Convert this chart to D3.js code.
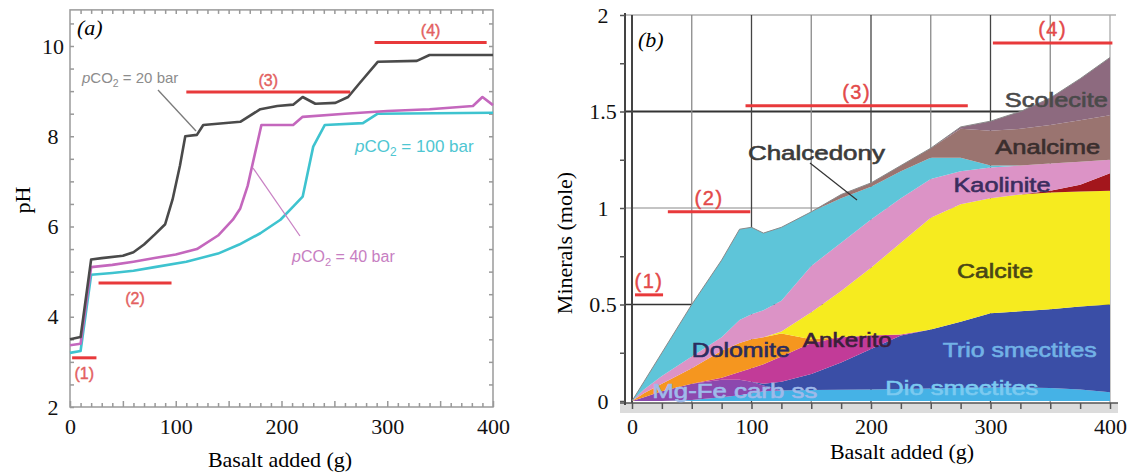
<!DOCTYPE html>
<html>
<head>
<meta charset="utf-8">
<script src="https://cdn.jsdelivr.net/npm/d3@7"></script>
<style>
body{margin:0;background:#fff;}
svg{display:block;}
text{font-family:"Liberation Serif","Times New Roman",serif;}
.sans{font-family:"Liberation Sans",Arial,sans-serif;}
</style>
</head>
<body>
<svg width="1138" height="474"></svg>
<script>
// ---- panel (a): pH against basalt added ----
var basalt20 = [0,10,20,30,50,60,70,80,90,97,104,109,120,126,161,180,196,211,220,232,251,263,274,291,328,340,400];
var ph20     = [3.5,3.55,5.27,5.3,5.35,5.43,5.6,5.82,6.05,6.6,7.35,8.0,8.03,8.25,8.32,8.6,8.67,8.7,8.87,8.72,8.74,8.87,9.18,9.65,9.67,9.8,9.8];

var basalt40 = [0,10,20,40,60,80,100,120,140,154,161,168,181,198,211,220,260,300,340,381,390,400];
var ph40     = [3.37,3.4,5.1,5.15,5.22,5.3,5.38,5.5,5.8,6.15,6.4,6.9,8.25,8.25,8.25,8.43,8.5,8.56,8.6,8.67,8.87,8.69];

var basalt100 = [0,10,20,40,60,80,110,140,160,180,199,211,220,230,241,277,291,400];
var ph100     = [3.2,3.24,4.93,4.97,5.02,5.1,5.22,5.4,5.6,5.85,6.15,6.44,6.66,7.77,8.25,8.29,8.5,8.52];

var regimeLabels = ["(1)","(2)","(3)","(4)"];
var regimeStartA = [2,27,110,288];
var regimeEndA   = [25,96,265,394];
var regimePH     = [3.09,4.75,8.98,10.08];

// ---- panel (b): minerals formed (mole), stacked bottom to top ----
var basaltB = [0,10,25,50,75,90,100,110,125,150,175,200,225,250,275,300,325,350,375,400];
var minerals = ["Dio smectites","Mg-Fe carb ss","Trio smectites","Ankerite","Dolomite","Calcite","Other","Kaolinite","Chalcedony","Analcime","Scolecite"];
var dioSmectites  = [0,0,0,0.005,0.02,0.03,0.04,0.05,0.055,0.057,0.058,0.06,0.062,0.065,0.068,0.07,0.07,0.068,0.06,0.045];
var mgFeCarb      = [0,0.02,0.05,0.085,0.09,0.08,0.06,0.03,0,0,0,0,0,0,0,0,0,0,0,0];
var trioSmectites = [0,0,0,0,0,0,0,0.01,0.045,0.083,0.142,0.21,0.278,0.305,0.342,0.385,0.395,0.407,0.43,0.455];
var ankerite      = [0,0,0,0,0.01,0.04,0.07,0.1,0.13,0.16,0.13,0.07,0.005,0,0,0,0,0,0,0];
var dolomite      = [0,0.02,0.04,0.08,0.14,0.15,0.15,0.14,0.12,0.02,0,0,0,0,0,0,0,0,0,0];
var calcite       = [0,0,0,0,0,0,0,0,0.01,0.14,0.24,0.35,0.475,0.58,0.61,0.595,0.605,0.605,0.595,0.59];
var otherPhase    = [0,0,0,0,0,0,0,0,0,0,0,0,0,0,0,0,0,0.01,0.035,0.09];
var kaolinite     = [0,0.02,0.04,0.06,0.07,0.12,0.13,0.14,0.16,0.24,0.25,0.25,0.23,0.2,0.17,0.16,0.15,0.14,0.12,0.07];
var chalcedony    = [0,0.04,0.12,0.27,0.4,0.47,0.45,0.4,0.38,0.28,0.23,0.17,0.14,0.11,0.07,0.01,0,0,0,0];
var analcime      = [0,0,0,0,0,0,0,0,0,0,0.02,0.02,0.03,0.05,0.15,0.18,0.19,0.2,0.215,0.23];
var scolecite     = [0,0,0,0,0,0,0,0,0,0,0,0,0,0,0.01,0.05,0.09,0.14,0.215,0.3];

var regimeStartB = [2.5,30,95,302];
var regimeEndB   = [26,99,281,402];
var regimeMole   = [0.55,0.98,1.53,1.855];

window.onload = function() {

    var svg = d3.select("svg");

    // ================= panel (a) =================
    var xA = d3.scaleLinear().domain([0,400]).range([70,493]);
    var yA = d3.scaleLinear().domain([2,10]).range([407,46]);

    svg.append("rect")
        .attr("x",xA(0)).attr("y",yA(10.8))
        .attr("width",xA(400)-xA(0)).attr("height",yA(2)-yA(10.8))
        .attr("fill","none").attr("stroke","#9a9a9a").attr("stroke-width",1.5);

    var gxA = svg.append("g").attr("transform","translate(0,"+yA(2)+")")
        .call(d3.axisBottom(xA).tickValues(d3.range(0,401,10)).tickSize(-4)
            .tickFormat(function(d){return d%100==0 ? d : "";}));
    gxA.select(".domain").remove();
    gxA.selectAll("line").attr("stroke","#999").attr("stroke-width",1.5)
        .attr("y2",function(d){return d%50==0 ? -6 : -4;});
    gxA.selectAll("text").attr("y",27).attr("dy",0).attr("font-size",22)
        .attr("font-family","Liberation Serif").attr("fill","#111");

    var gtA = svg.append("g").attr("transform","translate(0,"+yA(10.8)+")")
        .call(d3.axisTop(xA).tickValues(d3.range(10,400,10)).tickSize(-4).tickFormat(""));
    gtA.select(".domain").remove();
    gtA.selectAll("line").attr("stroke","#999").attr("stroke-width",1.5);

    var gyA = svg.append("g").attr("transform","translate("+xA(0)+",0)")
        .call(d3.axisLeft(yA).tickValues(d3.range(2,10.6,0.5)).tickSize(-4)
            .tickFormat(function(d){return d%2==0 ? d : "";}));
    gyA.select(".domain").remove();
    gyA.selectAll("line").attr("stroke","#999").attr("stroke-width",1.5);
    gyA.selectAll("text").attr("x",-17).attr("text-anchor","middle").attr("font-size",22)
        .attr("font-family","Liberation Serif").attr("fill","#111");

    var grA = svg.append("g").attr("transform","translate("+xA(400)+",0)")
        .call(d3.axisRight(yA).tickValues(d3.range(2.5,10.6,0.5)).tickSize(-4).tickFormat(""));
    grA.select(".domain").remove();
    grA.selectAll("line").attr("stroke","#999").attr("stroke-width",1.5);

    var lineA = d3.line()
        .x(function(d){return xA(d[0]);})
        .y(function(d){return yA(d[1]);});

    var seriesA = [
        {pts:d3.zip(basalt100,ph100), color:"#3ec3cf"},
        {pts:d3.zip(basalt40,ph40),   color:"#c467bd"},
        {pts:d3.zip(basalt20,ph20),   color:"#4a4a4a"}
    ];
    svg.selectAll(".phline").data(seriesA).enter().append("path")
        .attr("class","phline")
        .attr("d",function(d){return lineA(d.pts);})
        .attr("fill","none")
        .attr("stroke",function(d){return d.color;})
        .attr("stroke-width",2.6)
        .attr("stroke-linejoin","round");

    // regime bars (1)-(4)
    svg.selectAll(".regA").data(regimeLabels).enter().append("line")
        .attr("x1",function(d,i){return xA(regimeStartA[i]);})
        .attr("x2",function(d,i){return xA(regimeEndA[i]);})
        .attr("y1",function(d,i){return yA(regimePH[i]);})
        .attr("y2",function(d,i){return yA(regimePH[i]);})
        .attr("stroke","#e8393b").attr("stroke-width",3);
    svg.selectAll(".regAtxt").data(regimeLabels).enter().append("text")
        .attr("class","sans")
        .attr("x",function(d,i){return xA((regimeStartA[i]+regimeEndA[i])/2);})
        .attr("y",function(d,i){return yA(regimePH[i]) + (i<2 ? 21 : -6);})
        .attr("text-anchor","middle").attr("font-size",16).attr("fill","#e36060")
        .attr("stroke","#e36060").attr("stroke-width",0.4)
        .text(function(d){return d;});

    // pCO2 annotations
    function pco2(x,y,bar,size,color){
        var t = svg.append("text").attr("class","sans").attr("x",x).attr("y",y)
            .attr("font-size",size).attr("fill",color);
        t.append("tspan").attr("font-style","italic").text("p");
        t.append("tspan").text("CO");
        t.append("tspan").attr("font-size",size*0.7).attr("dy",size*0.25).text("2");
        t.append("tspan").attr("dy",-size*0.25).text(" = "+bar+" bar");
    }
    pco2(82,83,20,15,"#8c8c8c");
    pco2(355,152,100,17,"#4ec6d2");
    pco2(292,262,40,16,"#c77ec2");

    svg.append("line").attr("x1",158).attr("y1",90).attr("x2",196).attr("y2",131)
        .attr("stroke","#7a7a7a").attr("stroke-width",1.3);
    svg.append("line").attr("x1",253).attr("y1",168).attr("x2",300).attr("y2",236)
        .attr("stroke","#c982c4").attr("stroke-width",1.3);

    svg.append("text").attr("x",77).attr("y",35).attr("font-size",22)
        .attr("font-style","italic").text("(a)");
    svg.append("text").attr("x",280).attr("y",467).attr("font-size",22)
        .attr("text-anchor","middle").text("Basalt added (g)");
    svg.append("text").attr("transform","translate(30,200) rotate(-90)")
        .attr("font-size",22).attr("text-anchor","middle").text("pH");

    // ================= panel (b) =================
    var xB = d3.scaleLinear().domain([0,400]).range([632,1110]);
    var yB = d3.scaleLinear().domain([0,2]).range([401,15]);

    // grid (drawn under the areas)
    svg.selectAll(".hgrid").data([0.5,1,1.5,2]).enter().append("line")
        .attr("x1",625).attr("x2",function(d){return d==2 ? 1116 : xB(400);})
        .attr("y1",function(d){return yB(d);}).attr("y2",function(d){return yB(d);})
        .attr("stroke",function(d){return d==0.5||d==1.5 ? "#333" : "#b0b0b0";})
        .attr("stroke-width",function(d){return d==1.5 ? 2 : 1.5;});
    svg.selectAll(".vgrid").data(d3.range(0,401,50)).enter().append("line")
        .attr("x1",function(d){return xB(d);}).attr("x2",function(d){return xB(d);})
        .attr("y1",yB(2)).attr("y2",403)
        .attr("stroke",function(d){return d==400 ? "#aaa" : (d%100==0 ? "#444" : "#8a8a8a");})
        .attr("stroke-width",function(d){return d==0 ? 2 : 1.3;});

    var mineralValues = [dioSmectites,mgFeCarb,trioSmectites,ankerite,dolomite,calcite,otherPhase,kaolinite,chalcedony,analcime,scolecite];
    var mineralColors = ["#45b2e6","#8c48ae","#3a4ea6","#c23b98","#f5961f","#f6eb1f","#a3161c","#dc93c6","#5ec5d9","#9a7470","#8d6a7f"];

    var rows = basaltB.map(function(b,i){
        var r = {basalt:b};
        minerals.forEach(function(m,j){ r[m] = mineralValues[j][i]; });
        return r;
    });
    var stacked = d3.stack().keys(minerals)(rows);

    var areaB = d3.area()
        .x(function(d){return xB(d.data.basalt);})
        .y0(function(d){return yB(d[0]);})
        .y1(function(d){return yB(d[1]);});

    svg.selectAll(".layer").data(stacked).enter().append("path")
        .attr("class","layer")
        .attr("d",areaB)
        .attr("fill",function(d,i){return mineralColors[i];});

    // outline of the total
    svg.append("path")
        .datum(stacked[stacked.length-1])
        .attr("d",d3.line().x(function(d){return xB(d.data.basalt);}).y(function(d){return yB(d[1]);}))
        .attr("fill","none").attr("stroke","#8a8a8a").attr("stroke-width",1);

    // bottom axis band
    svg.append("rect").attr("x",620).attr("y",403).attr("width",498).attr("height",10).attr("fill","#dcdcdc");
    var gxB = svg.append("g").attr("transform","translate(0,403)")
        .call(d3.axisBottom(xB).tickValues(d3.range(0,401,25)).tickSize(6)
            .tickFormat(function(d){return d%100==0 ? d : "";}));
    gxB.select(".domain").attr("stroke","#555").attr("stroke-width",1.5).attr("d","M620,0H1118");
    gxB.selectAll("line").attr("stroke","#555").attr("stroke-width",1.5);
    gxB.selectAll("text").attr("y",31).attr("dy",0).attr("font-size",22)
        .attr("font-family","Liberation Serif").attr("fill","#111");

    var gyB = svg.append("g").attr("transform","translate(625,0)")
        .call(d3.axisLeft(yB).tickValues(d3.range(0,2.01,0.25)).tickSize(5)
            .tickFormat(function(d){return d%0.5==0 ? d : "";}));
    gyB.select(".domain").attr("stroke","#444").attr("stroke-width",2).attr("d","M0,"+(yB(2)-2)+"V405");
    gyB.selectAll("line").attr("stroke","#555").attr("stroke-width",1.5);
    gyB.selectAll("text").attr("x",-22).attr("text-anchor","middle").attr("font-size",22)
        .attr("font-family","Liberation Serif").attr("fill","#111");

    // mineral names
    var names = [
        {t:"Chalcedony",    b:97,  m:1.25,  w:137, c:"#3b3b3b"},
        {t:"Scolecite",     b:312, m:1.523, w:103, c:"#4a4a4a"},
        {t:"Analcime",      b:304, m:1.28,  w:105, c:"#3a2e2e"},
        {t:"Kaolinite",     b:269, m:1.083, w:97,  c:"#3b2d5e"},
        {t:"Calcite",       b:272, m:0.637, w:76,  c:"#4a4616"},
        {t:"Trio smectites",b:260, m:0.228, w:154, c:"#72b2e6"},
        {t:"Dio smectites", b:212, m:0.031, w:153, c:"#7ccaf0"},
        {t:"Ankerito",      b:143, m:0.28,  w:89,  c:"#3a1f3a"},
        {t:"Dolomite",      b:50,  m:0.228, w:98,  c:"#2b2c5e"},
        {t:"Mg-Fe carb ss", b:17,  m:0.0155,w:165, c:"#9fbaea"}
    ];
    svg.selectAll(".mname").data(names).enter().append("text")
        .attr("class","sans")
        .attr("x",function(d){return xB(d.b);})
        .attr("y",function(d){return yB(d.m);})
        .attr("textLength",function(d){return d.w;})
        .attr("lengthAdjust","spacingAndGlyphs")
        .attr("font-size",20)
        .attr("fill",function(d){return d.c;})
        .attr("stroke",function(d){return d.c;})
        .attr("stroke-width",0.6)
        .text(function(d){return d.t;});

    svg.append("line").attr("x1",810).attr("y1",163).attr("x2",857).attr("y2",200)
        .attr("stroke","#333").attr("stroke-width",1.2);

    // regime bars (1)-(4)
    svg.selectAll(".regB").data(regimeLabels).enter().append("line")
        .attr("x1",function(d,i){return xB(regimeStartB[i]);})
        .attr("x2",function(d,i){return xB(regimeEndB[i]);})
        .attr("y1",function(d,i){return yB(regimeMole[i]);})
        .attr("y2",function(d,i){return yB(regimeMole[i]);})
        .attr("stroke","#e8393b").attr("stroke-width",3);
    svg.selectAll(".regBtxt").data(regimeLabels).enter().append("text")
        .attr("class","sans")
        .attr("x",function(d,i){return xB((regimeStartB[i]+regimeEndB[i])/2);})
        .attr("y",function(d,i){return yB(regimeMole[i]) - 7;})
        .attr("text-anchor","middle").attr("font-size",20).attr("letter-spacing",1.5)
        .attr("fill","#e34a4a").attr("stroke","#e34a4a").attr("stroke-width",0.4)
        .text(function(d){return d;});

    svg.append("text").attr("x",638).attr("y",47).attr("font-size",22)
        .attr("font-style","italic").text("(b)");
    svg.append("text").attr("x",902).attr("y",459).attr("font-size",22)
        .attr("text-anchor","middle").text("Basalt added (g)");
    svg.append("text").attr("transform","translate(572,243) rotate(-90)")
        .attr("font-size",22).attr("text-anchor","middle").text("Minerals (mole)");
}
</script>
</body>
</html>
